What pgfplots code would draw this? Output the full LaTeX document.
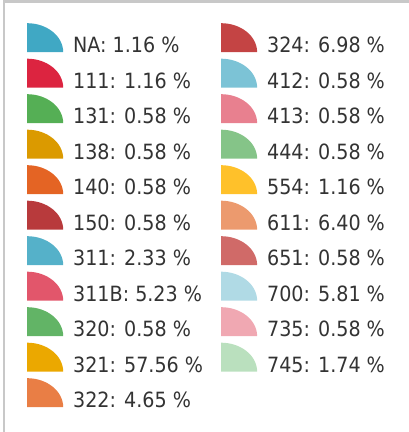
\documentclass[border=0pt]{standalone}
\usepackage{fontspec}
\setmainfont[FakeStretch=0.91]{DejaVu Sans}
\usepackage{pgfplots}
\pgfplotsset{compat=1.18}

\definecolor{txt}{HTML}{333333}
\definecolor{frame}{HTML}{C8C8C8}
\definecolor{cNA}{HTML}{40A8C4}
\definecolor{c111}{HTML}{DC2440}
\definecolor{c131}{HTML}{55AF55}
\definecolor{c138}{HTML}{DB9A00}
\definecolor{c140}{HTML}{E46424}
\definecolor{c150}{HTML}{B83A3C}
\definecolor{c311}{HTML}{55B1C9}
\definecolor{c311B}{HTML}{E2566B}
\definecolor{c320}{HTML}{62B466}
\definecolor{c321}{HTML}{EBA800}
\definecolor{c322}{HTML}{E97E45}
\definecolor{c324}{HTML}{C44444}
\definecolor{c412}{HTML}{7CC3D6}
\definecolor{c413}{HTML}{E8808F}
\definecolor{c444}{HTML}{85C488}
\definecolor{c554}{HTML}{FFC12A}
\definecolor{c611}{HTML}{EC9A6E}
\definecolor{c651}{HTML}{D06A68}
\definecolor{c700}{HTML}{B0DAE5}
\definecolor{c735}{HTML}{F0A8B2}
\definecolor{c745}{HTML}{BAE0BE}

\begin{document}
\begin{tikzpicture}
\useasboundingbox (0,0) rectangle (409pt,432pt);
\begin{axis}[
    at={(0,0)}, anchor=south west,
    scale only axis, width=409pt, height=432pt,
    hide axis,
    xmin=0, xmax=1, ymin=0, ymax=1,
    legend columns=2,
    legend cell align=left,
    legend image code/.code={
        \fill[#1, draw=none] (0pt,-7pt) -- (36pt,-7pt)
            arc[start angle=0, end angle=90, x radius=36pt, y radius=29pt] -- cycle;
    },
    legend style={
        draw=none, fill=none, inner sep=0pt,
        at={(0.066,0.9468)}, anchor=north west,
        font=\fontsize{21}{25}\selectfont, text=txt,
        row sep=-1pt,
        nodes={inner sep=0pt, text height=22pt, text depth=7pt},
        /tikz/every odd column/.append style={column sep=10pt},
        /tikz/every even column/.append style={column sep=18pt},
    },
]
% entries row by row: left column, right column
\addlegendimage{fill=cNA}  \addlegendentry{NA: 1.16 \%}
\addlegendimage{fill=c324} \addlegendentry{324: 6.98 \%}
\addlegendimage{fill=c111} \addlegendentry{111: 1.16 \%}
\addlegendimage{fill=c412} \addlegendentry{412: 0.58 \%}
\addlegendimage{fill=c131} \addlegendentry{131: 0.58 \%}
\addlegendimage{fill=c413} \addlegendentry{413: 0.58 \%}
\addlegendimage{fill=c138} \addlegendentry{138: 0.58 \%}
\addlegendimage{fill=c444} \addlegendentry{444: 0.58 \%}
\addlegendimage{fill=c140} \addlegendentry{140: 0.58 \%}
\addlegendimage{fill=c554} \addlegendentry{554: 1.16 \%}
\addlegendimage{fill=c150} \addlegendentry{150: 0.58 \%}
\addlegendimage{fill=c611} \addlegendentry{611: 6.40 \%}
\addlegendimage{fill=c311} \addlegendentry{311: 2.33 \%}
\addlegendimage{fill=c651} \addlegendentry{651: 0.58 \%}
\addlegendimage{fill=c311B} \addlegendentry{311B: 5.23 \%}
\addlegendimage{fill=c700} \addlegendentry{700: 5.81 \%}
\addlegendimage{fill=c320} \addlegendentry{320: 0.58 \%}
\addlegendimage{fill=c735} \addlegendentry{735: 0.58 \%}
\addlegendimage{fill=c321} \addlegendentry{321: 57.56 \%}
\addlegendimage{fill=c745} \addlegendentry{745: 1.74 \%}
\addlegendimage{fill=c322} \addlegendentry{322: 4.65 \%}
\end{axis}
\draw[frame, line width=2.6pt] (3pt,430.7pt) -- (409pt,430.7pt);
\draw[frame, line width=2pt] (3.8pt,0) -- (3.8pt,432pt);
\end{tikzpicture}
\end{document}
